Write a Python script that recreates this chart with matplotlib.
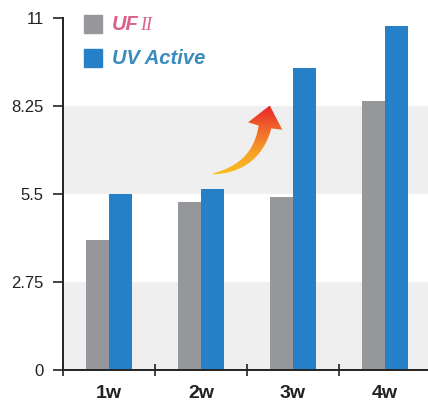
import numpy as np
import matplotlib
matplotlib.use("Agg")
import matplotlib.pyplot as plt
from matplotlib.path import Path
from matplotlib.patches import PathPatch, Rectangle
from matplotlib.colors import LinearSegmentedColormap
from matplotlib import font_manager

# Data
weeks = ["1w", "2w", "3w", "4w"]
uf2 = [4.05, 5.25, 5.4, 8.4]
uv_active = [5.5, 5.65, 9.45, 10.75]
ytick_vals = [0, 2.75, 5.5, 8.25, 11]
ytick_labels = ["0", "2.75", "5.5", "8.25", "11"]

GREY = "#96979b"
BLUE = "#2680c8"
BAND = "#efefef"
INK = "#222222"

plt.rcParams["font.family"] = ["Liberation Sans", "DejaVu Sans"]

installed = {f.name for f in font_manager.fontManager.ttflist}
legend_family = "Liberation Sans Narrow" if "Liberation Sans Narrow" in installed else "Liberation Sans"
legend_size = 16.5 if legend_family == "Liberation Sans Narrow" else 14.5

W, H = 428, 401
fig = plt.figure(figsize=(W / 100, H / 100), dpi=100)
ax = fig.add_axes([63 / W, (H - 370) / H, (W - 63) / W, (370 - 18) / H])

# alternating background bands
for lo, hi in [(0, 2.75), (5.5, 8.25)]:
    ax.axhspan(lo, hi, color=BAND, lw=0, zorder=0)

x = np.arange(len(weeks)) + 0.5
bw = 0.25
ax.bar(x - bw / 2, uf2, width=bw, color=GREY, zorder=2)
ax.bar(x + bw / 2, uv_active, width=bw, color=BLUE, zorder=2)

ax.set_xlim(0, (W - 63) / 92)
ax.set_ylim(0, 11)

for s in ["top", "right"]:
    ax.spines[s].set_visible(False)
for s in ["left", "bottom"]:
    ax.spines[s].set_color(INK)
    ax.spines[s].set_linewidth(1.4)

ax.set_yticks(ytick_vals)
ax.set_yticklabels(ytick_labels, fontsize=12, color=INK)
ax.tick_params(axis="y", direction="out", length=7, width=1.2, color=INK, pad=7)

ax.set_xticks(np.arange(len(weeks)))
ax.set_xticklabels([])
ax.tick_params(axis="x", which="major", direction="inout", length=8, width=1.2, color=INK)
ax.set_xticks(x, minor=True)
ax.set_xticklabels(weeks, minor=True, fontsize=14, fontweight="bold", color=INK)
ax.tick_params(axis="x", which="minor", length=0, pad=10.5)

# overlay in pixel coordinates for legend and arrow
ov = fig.add_axes([0, 0, 1, 1], facecolor="none")
ov.set_xlim(0, W)
ov.set_ylim(H, 0)
ov.axis("off")

# legend
ov.add_patch(Rectangle((84, 15), 18, 18, color=GREY))
ov.add_patch(Rectangle((84, 48.5), 18, 18, color=BLUE))
t1 = ov.text(112, 25, "UF", fontsize=legend_size, fontweight="bold", style="italic",
             family=legend_family, color="#dc5f8c", va="center", ha="left")
ov.annotate("II", xy=(1, 0.5), xycoords=t1, xytext=(1, 0), textcoords="offset points",
            fontsize=legend_size - 1.5, family="Liberation Serif", style="italic",
            color="#dc5f8c", va="center", ha="left")
ov.text(112, 58, "UV Active", fontsize=legend_size, fontweight="bold", style="italic",
        family=legend_family, color="#3a8cbe", va="center", ha="left")

# curved gradient arrow
p0 = np.array([212.0, 174.0])
p1 = np.array([256.0, 168.0])
p2 = np.array([265.0, 127.0])
t = np.linspace(0, 1, 60)[:, None]
c = (1 - t) ** 2 * p0 + 2 * (1 - t) * t * p1 + t ** 2 * p2
d = 2 * (1 - t) * (p1 - p0) + 2 * t * (p2 - p1)
d /= np.linalg.norm(d, axis=1, keepdims=True)
n = np.column_stack([-d[:, 1], d[:, 0]])
w = 6.5 * t[:, 0] ** 0.7
left = c + n * w[:, None]
right = c - n * w[:, None]
tip_dir = d[-1]
tip_n = n[-1]
head_l = p2 + tip_n * 17.5 + tip_dir * 1
head_r = p2 - tip_n * 17.5 + tip_dir * 1
tip = p2 + tip_dir * 22
verts = np.vstack([left, [head_l], [tip], [head_r], right[::-1], [left[0]]])
codes = [Path.MOVETO] + [Path.LINETO] * (len(verts) - 2) + [Path.CLOSEPOLY]
arrow = PathPatch(Path(verts, codes), facecolor="none", edgecolor="none")
ov.add_patch(arrow)
grad = np.linspace(0, 1, 256)[:, None]
cmap = LinearSegmentedColormap.from_list("warm", ["#e8202a", "#f0662a", "#f7a126", "#fcc21f"])
im = ov.imshow(grad, cmap=cmap, extent=(205, 290, 178, 104), aspect="auto",
               interpolation="bilinear", zorder=3)
im.set_clip_path(arrow)
ov.set_xlim(0, W)
ov.set_ylim(H, 0)

fig.savefig("out.png", dpi=100)
